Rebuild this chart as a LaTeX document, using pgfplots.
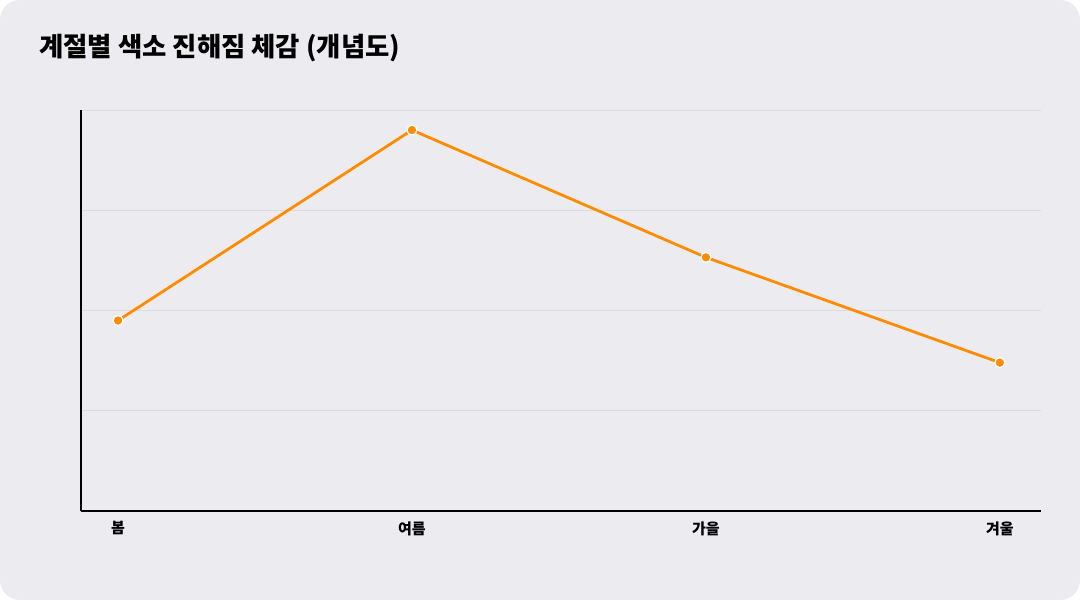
\documentclass[border=0pt]{standalone}
\usepackage{fontspec}
\usepackage{pgfplots}
\pgfplotsset{compat=1.18}
\newfontfamily\cjk{Noto Sans CJK KR}
\setmainfont{Noto Sans CJK KR}
\definecolor{bgc}{HTML}{EBEBF0}
\definecolor{linec}{HTML}{FF8C00}
\definecolor{gridc}{HTML}{DCDCDE}
\begin{document}
\begin{tikzpicture}[x=1bp,y=1bp]
\fill[white] (0,0) rectangle (1080,600);
\fill[bgc, rounded corners=20bp] (0,0) rectangle (1080,600);
\node[anchor=west, font=\fontsize{26.4bp}{30bp}\selectfont\bfseries, inner sep=0] at (39,552) {계절별 색소 진해짐 체감 (개념도)};
\begin{axis}[
  at={(81bp,89bp)}, anchor=south west,
  scale only axis, width=960bp, height=401bp,
  xmin=-0.126, xmax=3.14,
  ymin=0, ymax=4,
  xtick={0,1,2,3},
  xticklabels={봄,여름,가을,겨울},
  ytick={1,2,3,4},
  yticklabels={},
  ymajorgrids,
  grid style={gridc, line width=0.8bp},
  axis x line*=bottom, axis y line*=left,
  axis line style={black, line width=1.8bp, -},
  major tick length=0pt,
  tick style={draw=none},
  xticklabel style={font=\fontsize{15bp}{17bp}\selectfont\bfseries, yshift=-7bp},
  clip=false,
]
\addplot[linec, line width=2.8bp, mark=*, mark size=5bp,
  mark options={fill=linec, draw=white, line width=1.3bp}]
  coordinates {(0,1.9) (1,3.8) (2,2.53) (3,1.48)};
\end{axis}
\end{tikzpicture}
\end{document}
